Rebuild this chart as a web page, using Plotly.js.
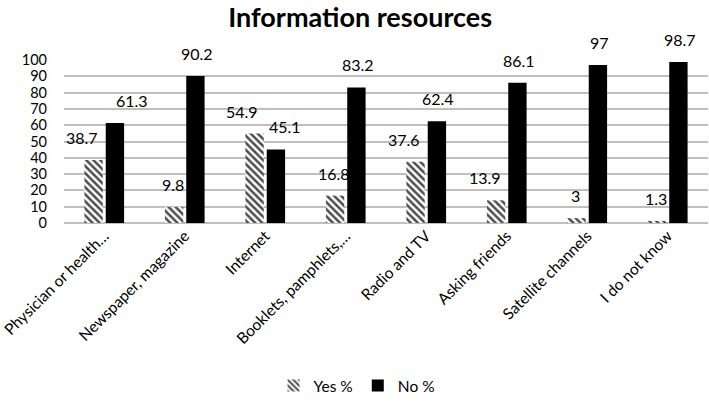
<!DOCTYPE html>
<html><head><meta charset="utf-8">
<script src="https://cdn.plot.ly/plotly-3.0.1.min.js"></script>
<style>body{margin:0;background:#fff}#c{width:709px;height:407px}</style>
</head><body><div id="c"></div>
<script>
const categories = ["Physician or health…","Newspaper, magazine","Internet","Booklets, pamphlets,…","Radio and TV","Asking friends","Satellite channels","I do not know"];
const yesValues = [38.7, 9.8, 54.9, 16.8, 37.6, 13.9, 3, 1.3];
const noValues = [61.3, 90.2, 45.1, 83.2, 62.4, 86.1, 97, 98.7];
const seriesNames = ["Yes %", "No %"];
const yTicks = [0,10,20,30,40,50,60,70,80,90,100];

// label nudges as in the original (pixels, style only)
const yesNudge = {"Physician or health…":-10, "Internet":-11, "Radio and TV":-10, "Asking friends":-10};
const noNudge = {"Physician or health…":16, "Internet":8};

const font = "Lato, 'Open Sans', sans-serif";
const traces = [
  {type:"bar", name:seriesNames[0], x:categories, y:yesValues,
   marker:{color:"#fff", pattern:{shape:"\\", fgcolor:"#4d4d4d", bgcolor:"#fff", size:5, solidity:0.5}, line:{width:0}}},
  {type:"bar", name:seriesNames[1], x:categories, y:noValues,
   marker:{color:"#000", line:{width:0}}}
];
const annotations = [];
[[yesValues,-12,yesNudge],[noValues,12,noNudge]].forEach(([vals,dx,nudge])=>{
  vals.forEach((v,i)=>annotations.push({x:categories[i], y:v, xref:"x", yref:"y", text:String(v), showarrow:false,
    xanchor:"center", yanchor:"bottom", xshift:dx+(nudge[categories[i]]||0), yshift:11, font:{size:16,family:font,color:"#000"}}));
});
const layout = {
  width:709, height:407,
  margin:{l:64, r:1, t:60, b:184},
  paper_bgcolor:"#fff", plot_bgcolor:"#fff",
  title:{text:"<b>Information resources</b>", x:0.508, xanchor:"center", y:0.957, yanchor:"middle", font:{size:27,family:font,color:"#000"}},
  barmode:"group", bargap:0.47, bargroupgap:0.14,
  font:{family:font, color:"#000"},
  annotations:annotations,
  xaxis:{type:"category", tickangle:-45, tickfont:{size:15.5}, showgrid:false, showline:false, ticks:"", automargin:false},
  yaxis:{range:[0,100], tickvals:yTicks, tickfont:{size:14.5}, ticklabelstandoff:16, showgrid:true, gridcolor:"#bfbfbf", gridwidth:1.5, zeroline:true, zerolinecolor:"#bfbfbf", zerolinewidth:1.5, showline:false, ticks:"", automargin:false},
  showlegend:true,
  legend:{orientation:"h", x:0.455, xanchor:"center", y:-1.0, yanchor:"middle", font:{size:15.5}, itemwidth:30, tracegroupgap:0}
};
Plotly.newPlot("c", traces, layout, {displayModeBar:false});
</script></body></html>
